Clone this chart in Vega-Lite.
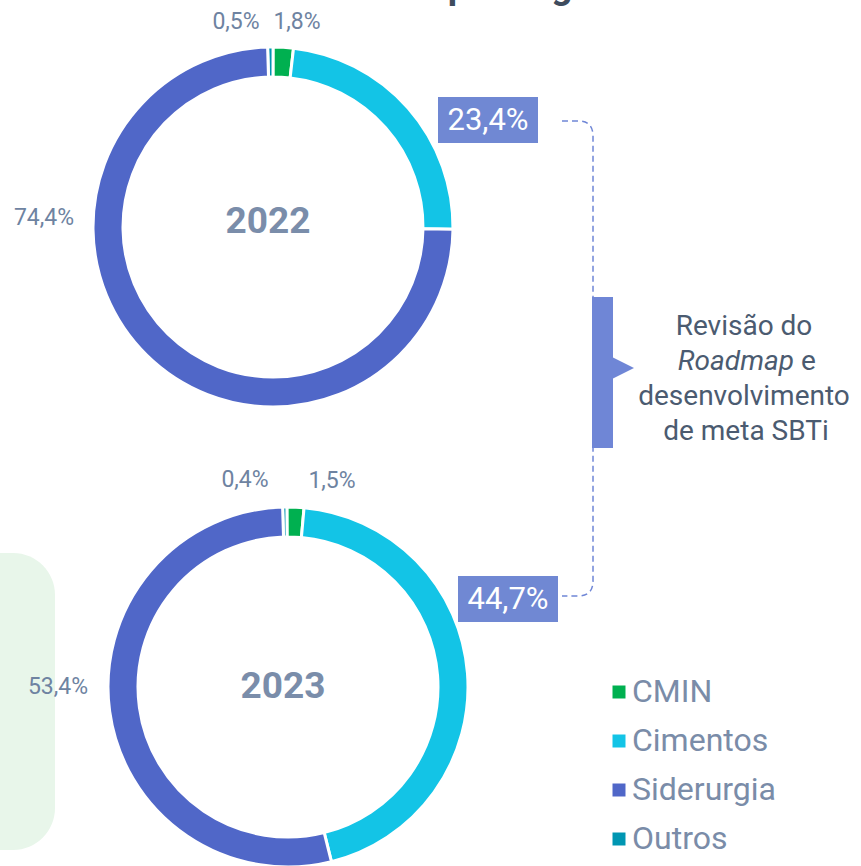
{
  "$schema": "https://vega.github.io/schema/vega-lite/v6.json",
  "width": 861,
  "height": 866,
  "autosize": "none",
  "padding": 0,
  "background": "white",
  "config": {"view": {"stroke": null}, "font": "Roboto"},
  "data": {
    "values": [
      {"year": "2022", "segment": "Outros", "value": 0.5, "label": "0,5%"},
      {"year": "2022", "segment": "CMIN", "value": 1.8, "label": "1,8%"},
      {"year": "2022", "segment": "Cimentos", "value": 23.4, "label": "23,4%"},
      {"year": "2022", "segment": "Siderurgia", "value": 74.4, "label": "74,4%"},
      {"year": "2023", "segment": "Outros", "value": 0.4, "label": "0,4%"},
      {"year": "2023", "segment": "CMIN", "value": 1.5, "label": "1,5%"},
      {"year": "2023", "segment": "Cimentos", "value": 44.7, "label": "44,7%"},
      {"year": "2023", "segment": "Siderurgia", "value": 53.4, "label": "53,4%"}
    ]
  },
  "encoding": {
    "x": {"type": "quantitative", "scale": {"domain": [0, 861], "nice": false, "zero": false}, "axis": null},
    "y": {"type": "quantitative", "scale": {"domain": [0, 866], "nice": false, "zero": false, "reverse": true}, "axis": null}
  },
  "layer": [
    {
      "transform": [{"filter": "datum.year == '2022' && datum.segment == 'CMIN'"}],
      "mark": {"type": "rect", "fill": "#E8F6EA", "cornerRadius": 42},
      "encoding": {
        "x": {"datum": -60, "type": "quantitative"},
        "x2": {"datum": 55},
        "y": {"datum": 553, "type": "quantitative"},
        "y2": {"datum": 850}
      }
    },
    {
      "transform": [{"filter": "datum.year == '2022'"}],
      "mark": {"type": "arc", "outerRadius": 180, "innerRadius": 150, "stroke": "white", "strokeWidth": 3},
      "encoding": {
        "theta": {"field": "value", "type": "quantitative", "stack": true, "scale": {"range": [-0.03, 6.2532]}},
        "order": {"field": "value", "sort": "ascending"},
        "color": {
          "field": "segment", "type": "nominal",
          "scale": {"domain": ["CMIN", "Cimentos", "Siderurgia", "Outros"], "range": ["#00B050", "#13C4E6", "#5067C8", "#0096B2"]},
          "legend": {
            "orient": "none", "legendX": 603, "legendY": 676, "title": null,
            "symbolType": "square", "symbolSize": 169, "symbolStrokeWidth": 0,
            "labelFont": "Roboto", "labelFontSize": 32, "labelColor": "#7A8CA8",
            "labelOffset": -3, "rowPadding": 17, "padding": 0
          }
        },
        "x": {"datum": 273, "type": "quantitative"},
        "y": {"datum": 227, "type": "quantitative"}
      }
    },
    {
      "transform": [{"filter": "datum.year == '2023'"}],
      "mark": {"type": "arc", "outerRadius": 180, "innerRadius": 150, "stroke": "white", "strokeWidth": 3},
      "encoding": {
        "theta": {"field": "value", "type": "quantitative", "stack": true, "scale": {"range": [-0.03, 6.2532]}},
        "order": {"field": "value", "sort": "ascending"},
        "color": {"field": "segment", "type": "nominal"},
        "x": {"datum": 288, "type": "quantitative"},
        "y": {"datum": 687, "type": "quantitative"}
      }
    },
    {
      "transform": [{"filter": "datum.segment == 'CMIN' && datum.year == '2022'"}],
      "mark": {"type": "text", "font": "Roboto", "fontSize": 37, "fontWeight": "bold", "fill": "#3E4C5E", "align": "center", "baseline": "alphabetic", "text": "Emissões por segmento"},
      "encoding": {"x": {"datum": 478, "type": "quantitative"}, "y": {"datum": -2, "type": "quantitative"}}
    },
    {
      "transform": [{"filter": "datum.segment == 'CMIN'"}],
      "mark": {"type": "text", "font": "Roboto", "fontSize": 37, "fontWeight": "bold", "fill": "#7A8DAA", "align": "center", "baseline": "middle"},
      "encoding": {
        "text": {"field": "year", "type": "nominal"},
        "x": {"field": "year", "type": "nominal", "scale": {"type": "point", "domain": ["2022", "2023"], "range": [268, 283], "padding": 0}},
        "y": {"field": "year", "type": "nominal", "scale": {"type": "point", "domain": ["2022", "2023"], "range": [222, 687], "padding": 0}}
      }
    },
    {
      "transform": [{"filter": "datum.year == '2022' && datum.segment == 'Cimentos'"}],
      "mark": {"type": "rect", "fill": "#7088D3"},
      "encoding": {"x": {"datum": 438, "type": "quantitative"}, "x2": {"datum": 538}, "y": {"datum": 97, "type": "quantitative"}, "y2": {"datum": 143}}
    },
    {
      "transform": [{"filter": "datum.year == '2023' && datum.segment == 'Cimentos'"}],
      "mark": {"type": "rect", "fill": "#7088D3"},
      "encoding": {"x": {"datum": 458, "type": "quantitative"}, "x2": {"datum": 558}, "y": {"datum": 576, "type": "quantitative"}, "y2": {"datum": 622}}
    },
    {
      "transform": [{"filter": "datum.year == '2022' && datum.segment == 'Cimentos'"}],
      "mark": {"type": "text", "font": "Roboto", "fontSize": 31, "fill": "white", "align": "center", "baseline": "middle"},
      "encoding": {"text": {"field": "label"}, "x": {"datum": 488, "type": "quantitative"}, "y": {"datum": 121, "type": "quantitative"}}
    },
    {
      "transform": [{"filter": "datum.year == '2023' && datum.segment == 'Cimentos'"}],
      "mark": {"type": "text", "font": "Roboto", "fontSize": 31, "fill": "white", "align": "center", "baseline": "middle"},
      "encoding": {"text": {"field": "label"}, "x": {"datum": 508, "type": "quantitative"}, "y": {"datum": 600, "type": "quantitative"}}
    },
    {
      "transform": [{"filter": "datum.year == '2022' && datum.segment == 'Outros'"}],
      "mark": {"type": "text", "font": "Roboto", "fontSize": 23, "fill": "#6E83A1", "align": "center", "baseline": "middle"},
      "encoding": {"text": {"field": "label"}, "x": {"datum": 236, "type": "quantitative"}, "y": {"datum": 22, "type": "quantitative"}}
    },
    {
      "transform": [{"filter": "datum.year == '2022' && datum.segment == 'CMIN'"}],
      "mark": {"type": "text", "font": "Roboto", "fontSize": 23, "fill": "#6E83A1", "align": "center", "baseline": "middle"},
      "encoding": {"text": {"field": "label"}, "x": {"datum": 297, "type": "quantitative"}, "y": {"datum": 22, "type": "quantitative"}}
    },
    {
      "transform": [{"filter": "datum.year == '2022' && datum.segment == 'Siderurgia'"}],
      "mark": {"type": "text", "font": "Roboto", "fontSize": 23, "fill": "#6E83A1", "align": "center", "baseline": "middle"},
      "encoding": {"text": {"field": "label"}, "x": {"datum": 44, "type": "quantitative"}, "y": {"datum": 218, "type": "quantitative"}}
    },
    {
      "transform": [{"filter": "datum.year == '2023' && datum.segment == 'Outros'"}],
      "mark": {"type": "text", "font": "Roboto", "fontSize": 23, "fill": "#6E83A1", "align": "center", "baseline": "middle"},
      "encoding": {"text": {"field": "label"}, "x": {"datum": 245, "type": "quantitative"}, "y": {"datum": 480, "type": "quantitative"}}
    },
    {
      "transform": [{"filter": "datum.year == '2023' && datum.segment == 'CMIN'"}],
      "mark": {"type": "text", "font": "Roboto", "fontSize": 23, "fill": "#6E83A1", "align": "center", "baseline": "middle"},
      "encoding": {"text": {"field": "label"}, "x": {"datum": 332, "type": "quantitative"}, "y": {"datum": 481, "type": "quantitative"}}
    },
    {
      "transform": [{"filter": "datum.year == '2023' && datum.segment == 'Siderurgia'"}],
      "mark": {"type": "text", "font": "Roboto", "fontSize": 23, "fill": "#6E83A1", "align": "center", "baseline": "middle"},
      "encoding": {"text": {"field": "label"}, "x": {"datum": 58, "type": "quantitative"}, "y": {"datum": 687, "type": "quantitative"}}
    },
    {
      "transform": [{"filter": "datum.year == '2022' && datum.segment == 'CMIN'"}],
      "mark": {
        "type": "point",
        "shape": "M-0.0653,-1L0.0021,-1Q0.0653,-1,0.0653,-0.9368L0.0653,0.9368Q0.0653,1,0.0021,1L-0.0653,1",
        "size": 225625, "filled": false, "stroke": "#6F86D6", "strokeWidth": 1.5, "strokeDash": [6, 4], "opacity": 1
      },
      "encoding": {"x": {"datum": 577.5, "type": "quantitative"}, "y": {"datum": 358.5, "type": "quantitative"}}
    },
    {
      "transform": [{"filter": "datum.year == '2022' && datum.segment == 'CMIN'"}],
      "mark": {"type": "rect", "fill": "#6F86D6"},
      "encoding": {"x": {"datum": 592, "type": "quantitative"}, "x2": {"datum": 613}, "y": {"datum": 297, "type": "quantitative"}, "y2": {"datum": 448}}
    },
    {
      "transform": [{"filter": "datum.year == '2022' && datum.segment == 'CMIN'"}],
      "mark": {"type": "point", "shape": "M-1,-1L1,0L-1,1Z", "size": 484, "filled": true, "fill": "#6F86D6", "strokeWidth": 0, "opacity": 1},
      "encoding": {"x": {"datum": 623, "type": "quantitative"}, "y": {"datum": 368, "type": "quantitative"}}
    },
    {
      "transform": [{"filter": "datum.year == '2022' && datum.segment == 'CMIN'"}],
      "mark": {"type": "text", "font": "Roboto", "fontSize": 28, "fill": "#4B5B70", "align": "center", "baseline": "alphabetic", "text": "Revisão do"},
      "encoding": {"x": {"datum": 744, "type": "quantitative"}, "y": {"datum": 335, "type": "quantitative"}}
    },
    {
      "transform": [{"filter": "datum.year == '2022' && datum.segment == 'CMIN'"}],
      "mark": {"type": "text", "font": "Roboto", "fontSize": 28, "fontStyle": "italic", "fill": "#4B5B70", "align": "right", "baseline": "alphabetic", "text": "Roadmap"},
      "encoding": {"x": {"datum": 794, "type": "quantitative"}, "y": {"datum": 370, "type": "quantitative"}}
    },
    {
      "transform": [{"filter": "datum.year == '2022' && datum.segment == 'CMIN'"}],
      "mark": {"type": "text", "font": "Roboto", "fontSize": 28, "fill": "#4B5B70", "align": "left", "baseline": "alphabetic", "text": "e"},
      "encoding": {"x": {"datum": 801, "type": "quantitative"}, "y": {"datum": 370, "type": "quantitative"}}
    },
    {
      "transform": [{"filter": "datum.year == '2022' && datum.segment == 'CMIN'"}],
      "mark": {"type": "text", "font": "Roboto", "fontSize": 28, "fill": "#4B5B70", "align": "center", "baseline": "alphabetic", "text": "desenvolvimento"},
      "encoding": {"x": {"datum": 744, "type": "quantitative"}, "y": {"datum": 405, "type": "quantitative"}}
    },
    {
      "transform": [{"filter": "datum.year == '2022' && datum.segment == 'CMIN'"}],
      "mark": {"type": "text", "font": "Roboto", "fontSize": 28, "fill": "#4B5B70", "align": "center", "baseline": "alphabetic", "text": "de meta SBTi"},
      "encoding": {"x": {"datum": 746, "type": "quantitative"}, "y": {"datum": 440, "type": "quantitative"}}
    }
  ],
  "resolve": {"scale": {"theta": "independent"}}
}
